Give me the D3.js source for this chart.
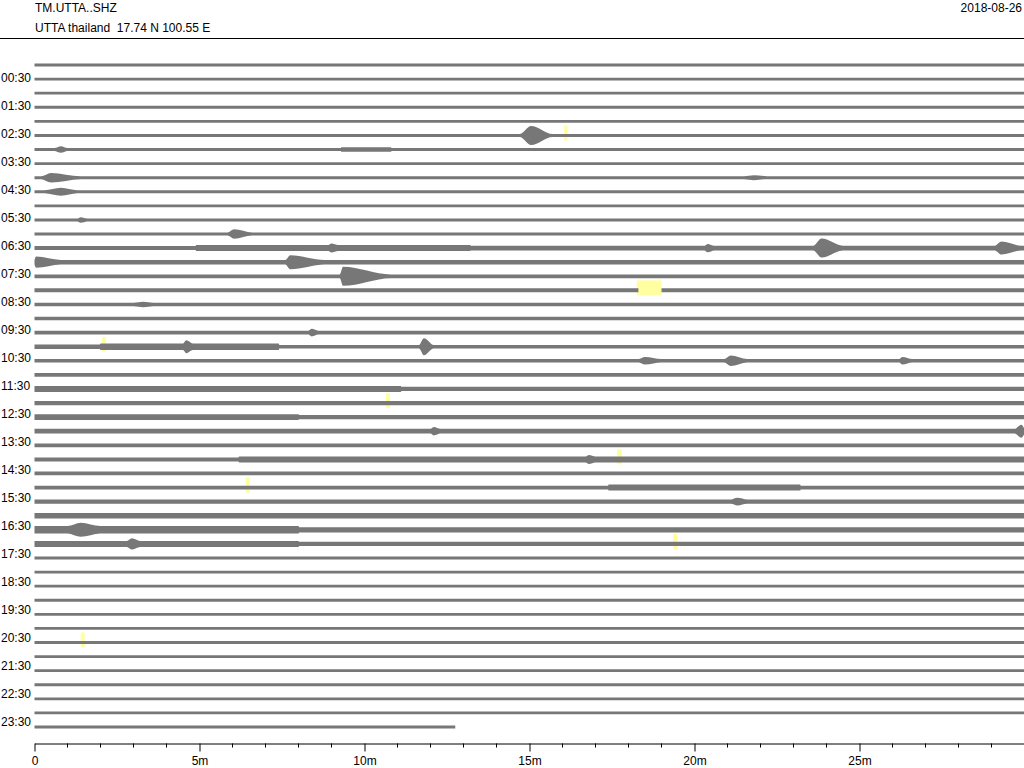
<!DOCTYPE html>
<html>
<head>
<meta charset="utf-8">
<script src="https://cdn.jsdelivr.net/npm/d3@7"></script>
<style>
body { margin: 0; background: #fff; }
text { font-family: "Liberation Sans", Arial, sans-serif; font-size: 12px; fill: #000; }
</style>
</head>
<body>
<svg id="heli" width="1024" height="768"></svg>
<script>
/* header texts */
var STATION = "TM.UTTA..SHZ";
var SITE = "UTTA thailand  17.74 N 100.55 E";
var DAY = "2018-08-26";

/* one row = 30 minutes, 48 rows for the day, last row stops early */
var ROW_COUNT = 48;
var ROW_MINUTES = 30;
var LAST_ROW_END = 12.75;
var ROW_LABELS = ["00:30", "01:30", "02:30", "03:30", "04:30", "05:30", "06:30", "07:30",
    "08:30", "09:30", "10:30", "11:30", "12:30", "13:30", "14:30", "15:30",
    "16:30", "17:30", "18:30", "19:30", "20:30", "21:30", "22:30", "23:30"];
var AXIS_MAJOR = [0, 5, 10, 15, 20, 25];
var AXIS_LABELS = ["0", "5m", "10m", "15m", "20m", "25m"];
var AXIS_MINOR = [1, 2, 3, 4, 6, 7, 8, 9, 11, 12, 13, 14, 16, 17, 18, 19, 21, 22, 23, 24, 26, 27, 28, 29];

/* background noise level of every row (counts) */
var BASE_AMP = [140, 140, 140, 140, 140, 150, 150, 140, 150, 150, 140, 150,
    160, 200, 220, 190, 200, 180, 180, 190, 180, 170, 190, 210,
    210, 210, 240, 190, 200, 190, 190, 210, 280, 260, 220, 140,
    140, 140, 140, 140, 140, 140, 140, 140, 140, 140, 140, 140];

/* wave trains: row, start min, peak min, end min, peak amplitude */
var BURSTS = [
    [5, 14.7, 15.05, 15.7, 950],
    [6, 0.6, 0.8, 1.0, 330],
    [8, 0.2, 0.5, 1.4, 480],
    [8, 21.5, 21.8, 22.2, 250],
    [9, 0.3, 0.8, 1.3, 400],
    [11, 1.3, 1.4, 1.6, 280],
    [12, 5.85, 6.05, 6.6, 480],
    [13, 23.6, 23.85, 24.5, 950],
    [13, 29.1, 29.3, 29.9, 650],
    [13, 8.9, 9.0, 9.2, 450],
    [13, 20.3, 20.4, 20.6, 420],
    [14, 0.0, 0.05, 0.8, 560],
    [14, 7.6, 7.75, 8.8, 700],
    [15, 9.25, 9.35, 10.8, 950],
    [17, 3.0, 3.3, 3.6, 280],
    [19, 8.3, 8.4, 8.6, 380],
    [20, 4.5, 4.6, 4.8, 650],
    [20, 11.65, 11.8, 12.1, 850],
    [21, 18.3, 18.5, 19.0, 380],
    [21, 20.9, 21.1, 21.6, 520],
    [21, 26.2, 26.3, 26.6, 380],
    [26, 12.0, 12.1, 12.3, 420],
    [26, 29.7, 29.9, 30.0, 650],
    [28, 16.7, 16.8, 17.0, 450],
    [31, 21.1, 21.3, 21.6, 380],
    [33, 1.0, 1.4, 2.0, 700],
    [34, 2.8, 2.95, 3.2, 560]
];

/* stretches of raised noise: row, start min, end min, amplitude */
var PLATEAUS = [
    [6, 9.3, 10.8, 230],
    [13, 4.9, 13.2, 300],
    [13, 13.2, 30, 240],
    [20, 0, 2.0, 230],
    [20, 2.0, 7.4, 330],
    [23, 0, 11.1, 300],
    [25, 0, 8.0, 280],
    [28, 6.2, 30, 300],
    [30, 17.4, 23.2, 300],
    [33, 0, 8.0, 370],
    [34, 0, 8.0, 300]
];

/* missing data: row, start min, end min */
var GAPS = [
    [16, 18.3, 19.0]
];

/* yellow markers: row, start min, end min */
var MARKS = [
    [5, 16.05, 16.15],
    [16, 18.25, 19.0],
    [20, 2.05, 2.17],
    [24, 10.65, 10.77],
    [28, 17.65, 17.8],
    [30, 6.4, 6.52],
    [34, 19.35, 19.47],
    [41, 1.4, 1.52]
];

var svg = d3.select("#heli");

var x = d3.scaleLinear().domain([0, ROW_MINUTES]).range([34.5, 1024.5]);
var y = d3.scaleLinear().domain([0, ROW_COUNT - 1]).range([65, 727]);
var labelY = d3.scaleLinear().domain([0, ROW_LABELS.length - 1]).range([78, 721.3]);
var amp = d3.scaleLinear().domain([0, 1000]).range([0, 10]);

function ampAt(row, t) {
    var a = BASE_AMP[row];
    PLATEAUS.forEach(function (p) {
        if (p[0] === row && t >= p[1] && t <= p[2]) a = Math.max(a, p[3]);
    });
    BURSTS.forEach(function (b) {
        if (b[0] !== row || t < b[1] || t > b[3]) return;
        var v;
        if (t <= b[2]) v = b[2] === b[1] ? b[4] : BASE_AMP[row] + (b[4] - BASE_AMP[row]) * (t - b[1]) / (b[2] - b[1]);
        else v = b[4] - (b[4] - BASE_AMP[row]) * (t - b[2]) / (b[3] - b[2]);
        a = Math.max(a, v);
    });
    return a;
}

function knots(row, from, to) {
    var ts = [from, to];
    BURSTS.forEach(function (b) {
        if (b[0] === row) ts.push(b[1], b[2], b[3]);
    });
    PLATEAUS.forEach(function (p) {
        if (p[0] === row) ts.push(p[1] - 0.02, p[1], p[2], p[2] + 0.02);
    });
    ts = ts.filter(function (t) { return t >= from && t <= to; });
    ts.sort(d3.ascending);
    return ts.map(function (t) { return { t: t, a: ampAt(row, t) }; });
}

/* yellow markers go under the traces */
svg.append("g").selectAll("rect")
    .data(MARKS).enter()
    .append("rect")
    .attr("x", function (d) { return x(d[1]); })
    .attr("width", function (d) { return Math.max(2, x(d[2]) - x(d[1])); })
    .attr("y", function (d) { return y(d[0]) - 10; })
    .attr("height", 15)
    .attr("fill", "#ffffa0");

var traces = svg.append("g").attr("class", "traces");

d3.range(ROW_COUNT).forEach(function (row) {
    var end = row === ROW_COUNT - 1 ? LAST_ROW_END : ROW_MINUTES;
    var segs = [[0, end]];
    GAPS.forEach(function (g) {
        if (g[0] !== row) return;
        segs = [[0, g[1]], [g[2], end]];
    });

    var area = d3.area()
        .curve(d3.curveMonotoneX)
        .x(function (d) { return x(d.t); })
        .y0(function (d) { return y(row) - amp(d.a); })
        .y1(function (d) { return y(row) + amp(d.a); });

    segs.forEach(function (s) {
        traces.append("path")
            .attr("d", area(knots(row, s[0], s[1])))
            .attr("fill", "#777");
    });
});

/* row labels every hour (odd rows) */
svg.append("g").selectAll("text")
    .data(ROW_LABELS).enter()
    .append("text")
    .attr("x", 1)
    .attr("y", function (d, i) { return labelY(i); })
    .attr("dy", "0.35em")
    .text(function (d) { return d; });

/* header */
svg.append("text").attr("x", 35).attr("y", 12).text(STATION);
svg.append("text").attr("x", 35).attr("y", 32).style("white-space", "pre").text(SITE);
svg.append("text").attr("x", 1022).attr("y", 12).attr("text-anchor", "end").text(DAY);
svg.append("line")
    .attr("x1", 0).attr("x2", 1024)
    .attr("y1", 38.5).attr("y2", 38.5)
    .attr("stroke", "#000");

/* time axis */
var axisG = svg.append("g").attr("transform", "translate(0,743.5)");
axisG.call(d3.axisBottom(x)
    .tickValues(AXIS_MAJOR)
    .tickFormat(function (d, i) { return AXIS_LABELS[i]; })
    .tickSize(8)
    .tickSizeOuter(0)
    .tickPadding(5));
axisG.selectAll("text").style("font-size", "12px").style("font-family", "'Liberation Sans', Arial, sans-serif");
axisG.append("g").selectAll("line")
    .data(AXIS_MINOR).enter()
    .append("line")
    .attr("x1", function (d) { return x(d); })
    .attr("x2", function (d) { return x(d); })
    .attr("y1", 0).attr("y2", 4)
    .attr("stroke", "#000");
</script>
</body>
</html>
